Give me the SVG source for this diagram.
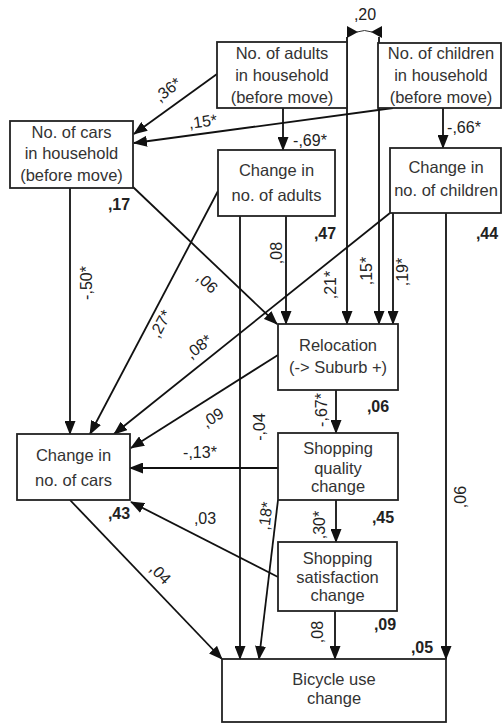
<svg xmlns="http://www.w3.org/2000/svg" width="503" height="724" viewBox="0 0 503 724">
<style>
.box{fill:#fff;stroke:#222;stroke-width:1.8}
.nt{font-family:"Liberation Sans",Arial,sans-serif;font-size:16.5px;fill:#333;text-anchor:middle}
.c{fill:none;stroke:#111;stroke-width:1.8;marker-end:url(#ah)}
.lb{font-family:"Liberation Sans",Arial,sans-serif;font-size:16px;fill:#222;text-anchor:middle}
.bl{font-family:"Liberation Sans",Arial,sans-serif;font-size:16px;font-weight:bold;fill:#222;text-anchor:middle}
</style>
<defs>
<marker id="ah" markerUnits="userSpaceOnUse" markerWidth="14" markerHeight="11" refX="13" refY="5.5" orient="auto">
<path d="M0,0 L14,5.5 L0,11 z" fill="#111"/>
</marker>
</defs>
<rect width="503" height="724" fill="#fff"/>

<g id="connectors">
<line class="c" x1="217" y1="74" x2="134" y2="134"/>
<line class="c" x1="393" y1="108" x2="134" y2="143"/>
<line class="c" x1="283" y1="108" x2="283" y2="150"/>
<line class="c" x1="443" y1="108" x2="443" y2="148"/>
<line class="c" x1="70" y1="188" x2="70" y2="434"/>
<line class="c" x1="133" y1="187" x2="277" y2="324"/>
<line class="c" x1="218" y1="191" x2="90" y2="434"/>
<line class="c" x1="286" y1="216" x2="286" y2="324"/>
<line class="c" x1="240" y1="216" x2="240" y2="659"/>
<line class="c" x1="347" y1="37" x2="347" y2="324"/>
<line class="c" x1="379" y1="37" x2="379" y2="324"/>
<line class="c" x1="393" y1="213" x2="393" y2="324"/>
<line class="c" x1="390" y1="213" x2="114" y2="434"/>
<line class="c" x1="446" y1="213" x2="446" y2="659"/>
<line class="c" x1="278" y1="355" x2="131" y2="448"/>
<line class="c" x1="336" y1="390" x2="336" y2="433"/>
<line class="c" x1="278" y1="468" x2="130" y2="468"/>
<line class="c" x1="278" y1="500" x2="259" y2="659"/>
<line class="c" x1="336" y1="500" x2="336" y2="542"/>
<line class="c" x1="278" y1="577" x2="131" y2="502"/>
<line class="c" x1="335" y1="611" x2="335" y2="659"/>
<line class="c" x1="70" y1="500" x2="222" y2="659"/>
<path d="M357,32 Q364.5,29 372,32" fill="none" stroke="#333" stroke-width="1"/>
<polygon points="347,26 347,38 358,32" fill="#111"/>
<polygon points="382,26 382,38 371,32" fill="#111"/>
</g>

<g id="adults_before">
<rect class="box" x="217" y="42" width="130" height="66"/>
<text class="nt" x="282" y="59">No. of adults</text>
<text class="nt" x="282" y="81">in household</text>
<text class="nt" x="282" y="103">(before move)</text>
</g>
<g id="children_before">
<rect class="box" x="378" y="43" width="123" height="65"/>
<text class="nt" x="441" y="59">No. of children</text>
<text class="nt" x="441" y="81">in household</text>
<text class="nt" x="441" y="103">(before move)</text>
</g>
<g id="cars_before">
<rect class="box" x="10" y="121" width="123" height="67"/>
<text class="nt" x="71.5" y="138">No. of cars</text>
<text class="nt" x="71.5" y="159">in household</text>
<text class="nt" x="71.5" y="181">(before move)</text>
</g>
<g id="change_adults">
<rect class="box" x="218" y="150" width="117" height="66"/>
<text class="nt" x="276.5" y="176">Change in</text>
<text class="nt" x="276.5" y="201">no. of adults</text>
</g>
<g id="change_children">
<rect class="box" x="390" y="148" width="111" height="65"/>
<text class="nt" x="446" y="173">Change in</text>
<text class="nt" x="446" y="196">no. of children</text>
</g>
<g id="relocation">
<rect class="box" x="278" y="324" width="120" height="66"/>
<text class="nt" x="338" y="351">Relocation</text>
<text class="nt" x="338" y="373">(-&gt; Suburb +)</text>
</g>
<g id="change_cars">
<rect class="box" x="17" y="434" width="113" height="66"/>
<text class="nt" x="73.5" y="461">Change in</text>
<text class="nt" x="73.5" y="486">no. of cars</text>
</g>
<g id="shopping_quality">
<rect class="box" x="278" y="433" width="120" height="67"/>
<text class="nt" x="338" y="454">Shopping</text>
<text class="nt" x="338" y="474">quality</text>
<text class="nt" x="338" y="492">change</text>
</g>
<g id="shopping_satisfaction">
<rect class="box" x="278" y="542" width="119" height="69"/>
<text class="nt" x="337.5" y="564">Shopping</text>
<text class="nt" x="337.5" y="583">satisfaction</text>
<text class="nt" x="337.5" y="601">change</text>
</g>
<g id="bicycle_use">
<rect class="box" x="222" y="659" width="224" height="63"/>
<text class="nt" x="334" y="685">Bicycle use</text>
<text class="nt" x="334" y="704">change</text>
</g>

<g id="labels">
<text class="lb" x="365" y="20">,20</text>
<text class="lb" transform="translate(168,90) rotate(-38)" y="5">,36*</text>
<text class="lb" transform="translate(203,122) rotate(-7.5)" y="5">,15*</text>
<text class="lb" x="310" y="146">-,69*</text>
<text class="lb" x="464" y="133">-,66*</text>
<text class="bl" x="119" y="210">,17</text>
<text class="bl" x="325" y="239">,47</text>
<text class="bl" x="487" y="239">,44</text>
<text class="lb" transform="translate(277,253) rotate(-90)" y="5">,08</text>
<text class="lb" transform="translate(331,285) rotate(-90)" y="5">,21*</text>
<text class="lb" transform="translate(367,271) rotate(-90)" y="5">,15*</text>
<text class="lb" transform="translate(403,272) rotate(-90)" y="5">,19*</text>
<text class="lb" transform="translate(207,283) rotate(44)" y="5">,06</text>
<text class="lb" transform="translate(87,283) rotate(-90)" y="5">-,50*</text>
<text class="lb" transform="translate(161,324) rotate(-62)" y="5">,27*</text>
<text class="lb" transform="translate(199,347) rotate(-38.6)" y="5">,08*</text>
<text class="lb" transform="translate(213,418) rotate(-32)" y="5">,09</text>
<text class="lb" transform="translate(260,427) rotate(-90)" y="5">-,04</text>
<text class="lb" transform="translate(322,410) rotate(-90)" y="5">-,67*</text>
<text class="bl" x="378" y="412">,06</text>
<text class="lb" x="200" y="458">-,13*</text>
<text class="lb" transform="translate(266,516) rotate(-83)" y="5">,18*</text>
<text class="lb" transform="translate(320,525) rotate(-90)" y="5">,30*</text>
<text class="bl" x="383" y="523">,45</text>
<text class="lb" x="205" y="524">,03</text>
<text class="bl" x="119" y="519">,43</text>
<text class="lb" transform="translate(160,574) rotate(46)" y="5">,04</text>
<text class="lb" transform="translate(461,497) rotate(-90)" y="5">,06</text>
<text class="lb" transform="translate(318,632) rotate(-90)" y="5">,08</text>
<text class="bl" x="385" y="630">,09</text>
<text class="bl" x="422" y="653">,05</text>
</g>
</svg>
